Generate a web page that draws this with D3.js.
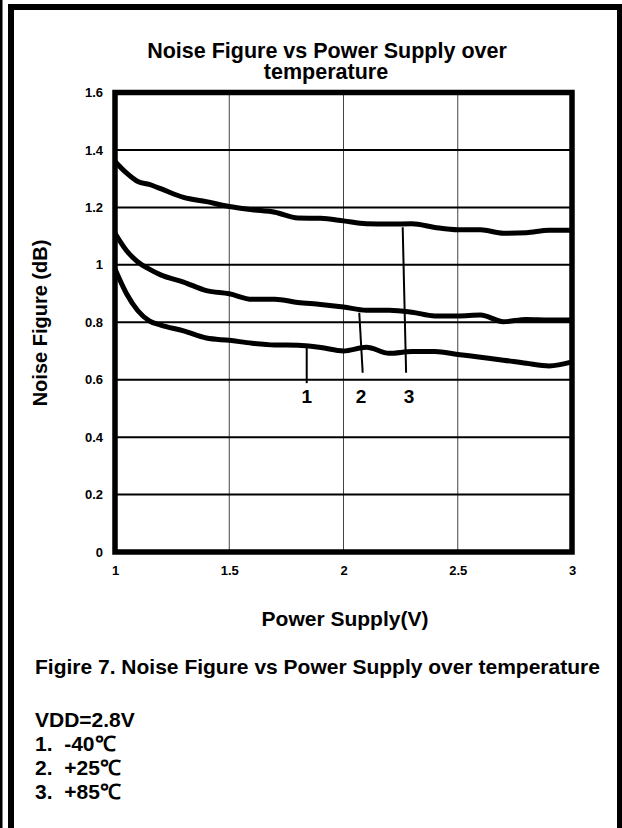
<!DOCTYPE html>
<html lang="en">
<head>
    <meta charset="UTF-8"/>
    <title>Noise Figure vs Power Supply</title>
    <script src="https://d3js.org/d3.v7.min.js"></script>
    <style type="text/css">
        body { margin: 0; background: #fff; }
        text {
            font-family: Arial, "Liberation Sans", sans-serif;
            font-weight: bold;
        }
    </style>
</head>
<body>
<div id="chart"></div>
<script>

// supply voltage grid (V)
var volts = [1.0, 1.05, 1.1, 1.15, 1.2, 1.3, 1.4, 1.5, 1.6, 1.7, 1.8, 1.9, 2.0,
             2.1, 2.2, 2.3, 2.4, 2.5, 2.6, 2.7, 2.8, 2.9, 3.0]

// noise figure (dB) per temperature
var nfCold = [0.985, 0.90, 0.84, 0.805, 0.79, 0.77, 0.745, 0.737, 0.727, 0.721, 0.72, 0.712, 0.70,
              0.713, 0.692, 0.698, 0.698, 0.688, 0.678, 0.668, 0.657, 0.648, 0.662]
var nfRoom = [1.11, 1.05, 1.01, 0.985, 0.965, 0.94, 0.91, 0.899, 0.88, 0.88, 0.869, 0.862, 0.853,
              0.842, 0.842, 0.835, 0.822, 0.822, 0.825, 0.802, 0.81, 0.808, 0.808]
var nfHot  = [1.36, 1.32, 1.29, 1.28, 1.265, 1.235, 1.22, 1.203, 1.192, 1.183, 1.163, 1.162, 1.153,
              1.143, 1.142, 1.143, 1.13, 1.122, 1.122, 1.11, 1.112, 1.12, 1.12]

// tick labels
var xTicks = [1, 1.5, 2, 2.5, 3]
var yTicks = [0, 0.2, 0.4, 0.6, 0.8, 1, 1.2, 1.4, 1.6]

// curve callouts: label, label x, line top (x, y), line bottom (x, y)
var calloutLabels = ["1", "2", "3"]
var calloutX      = [1.839, 2.077, 2.287]
var calloutTopX   = [1.839, 2.069, 2.259]
var calloutTopY   = [0.715, 0.833, 1.131]
var calloutBotX   = [1.839, 2.084, 2.274]
var calloutBotY   = [0.588, 0.624, 0.624]

var notes = ["VDD=2.8V", "1.  -40\u2103", "2.  +25\u2103", "3.  +85\u2103"]

var width = 622,
    height = 828

var svg = d3.select("#chart")
  .append("svg")
    .attr("width", width)
    .attr("height", height)

// outer frame (bottom runs off the page)
svg.append("line")
    .attr("x1", 1).attr("x2", 1).attr("y1", 0).attr("y2", height)
    .attr("stroke", "black").attr("stroke-width", 3)
svg.append("rect")
    .attr("x", 11).attr("y", 7)
    .attr("width", 609).attr("height", height + 20)
    .attr("fill", "none")
    .attr("stroke", "black")
    .attr("stroke-width", 6)

// plot area
var pLeft = 115, pRight = 572, pTop = 92.5, pBottom = 552

var x = d3.scaleLinear().domain([1, 3]).range([pLeft, pRight])
var y = d3.scaleLinear().domain([0, 1.6]).range([pBottom, pTop])

// vertical grid
svg.append("g")
  .selectAll("line")
  .data(xTicks.slice(1, -1))
  .enter()
  .append("line")
    .attr("x1", function(d) { return x(d) }).attr("x2", function(d) { return x(d) })
    .attr("y1", pTop).attr("y2", pBottom)
    .attr("stroke", "#444")
    .attr("stroke-width", 1)

// horizontal grid
svg.append("g")
  .selectAll("line")
  .data(yTicks.slice(1, -1))
  .enter()
  .append("line")
    .attr("x1", pLeft).attr("x2", pRight)
    .attr("y1", function(d) { return y(d) }).attr("y2", function(d) { return y(d) })
    .attr("stroke", "black")
    .attr("stroke-width", 2)

// axes, labels only
svg.append("g")
    .attr("transform", "translate(0," + pBottom + ")")
    .call(d3.axisBottom(x).tickValues(xTicks).tickSize(0).tickPadding(14).tickFormat(d3.format("")))
svg.append("g")
    .attr("transform", "translate(" + pLeft + ",0)")
    .call(d3.axisLeft(y).tickValues(yTicks).tickSize(0).tickPadding(12).tickFormat(d3.format("")))

svg.selectAll(".domain").remove()
svg.selectAll(".tick text")
    .style("font-size", "13px")
    .style("font-family", "Arial, 'Liberation Sans', sans-serif")
    .style("font-weight", "bold")
    .attr("fill", "black")

// data curves
var line = d3.line()
    .x(function(d) { return x(d[0]) })
    .y(function(d) { return y(d[1]) })
    .curve(d3.curveMonotoneX)

var series = [nfCold, nfRoom, nfHot]
svg.append("g")
  .selectAll("path")
  .data(series)
  .enter()
  .append("path")
    .attr("d", function(s) { return line(volts.map(function(v, i) { return [v, s[i]] })) })
    .attr("fill", "none")
    .attr("stroke", "black")
    .attr("stroke-width", 5)
    .attr("stroke-linejoin", "round")

// callout lines and numbers
svg.append("g")
  .selectAll("line")
  .data(calloutLabels)
  .enter()
  .append("line")
    .attr("x1", function(d, i) { return x(calloutTopX[i]) })
    .attr("y1", function(d, i) { return y(calloutTopY[i]) })
    .attr("x2", function(d, i) { return x(calloutBotX[i]) })
    .attr("y2", function(d, i) { return y(calloutBotY[i]) })
    .attr("stroke", "black")
    .attr("stroke-width", 2)

svg.append("g")
  .selectAll("text")
  .data(calloutLabels)
  .enter()
  .append("text")
    .attr("x", function(d, i) { return x(calloutX[i]) })
    .attr("y", y(0.518))
    .attr("text-anchor", "middle")
    .style("font-size", "19px")
    .text(function(d) { return d })

// plot frame
svg.append("rect")
    .attr("x", pLeft).attr("y", pTop)
    .attr("width", pRight - pLeft).attr("height", pBottom - pTop)
    .attr("fill", "none")
    .attr("stroke", "black")
    .attr("stroke-width", 5.5)

// titles
svg.append("text").attr("x", 327).attr("y", 58).attr("text-anchor", "middle")
    .style("font-size", "21.5px").text("Noise Figure vs Power Supply over")
svg.append("text").attr("x", 326).attr("y", 79).attr("text-anchor", "middle")
    .style("font-size", "21.5px").text("temperature")

svg.append("text").attr("x", 345).attr("y", 626).attr("text-anchor", "middle")
    .style("font-size", "21px").text("Power Supply(V)")

svg.append("text")
    .attr("transform", "translate(47," + 323 + ") rotate(-90)")
    .attr("text-anchor", "middle")
    .style("font-size", "20px").text("Noise Figure (dB)")

svg.append("text").attr("x", 35).attr("y", 674)
    .style("font-size", "21px").text("Figire 7. Noise Figure vs Power Supply over temperature")

svg.append("g")
  .selectAll("text")
  .data(notes)
  .enter()
  .append("text")
    .attr("x", 35)
    .attr("y", function(d, i) { return 727 + i * 24 })
    .style("font-size", "21px")
    .attr("xml:space", "preserve")
    .text(function(d) { return d })

</script>
</body>
</html>
